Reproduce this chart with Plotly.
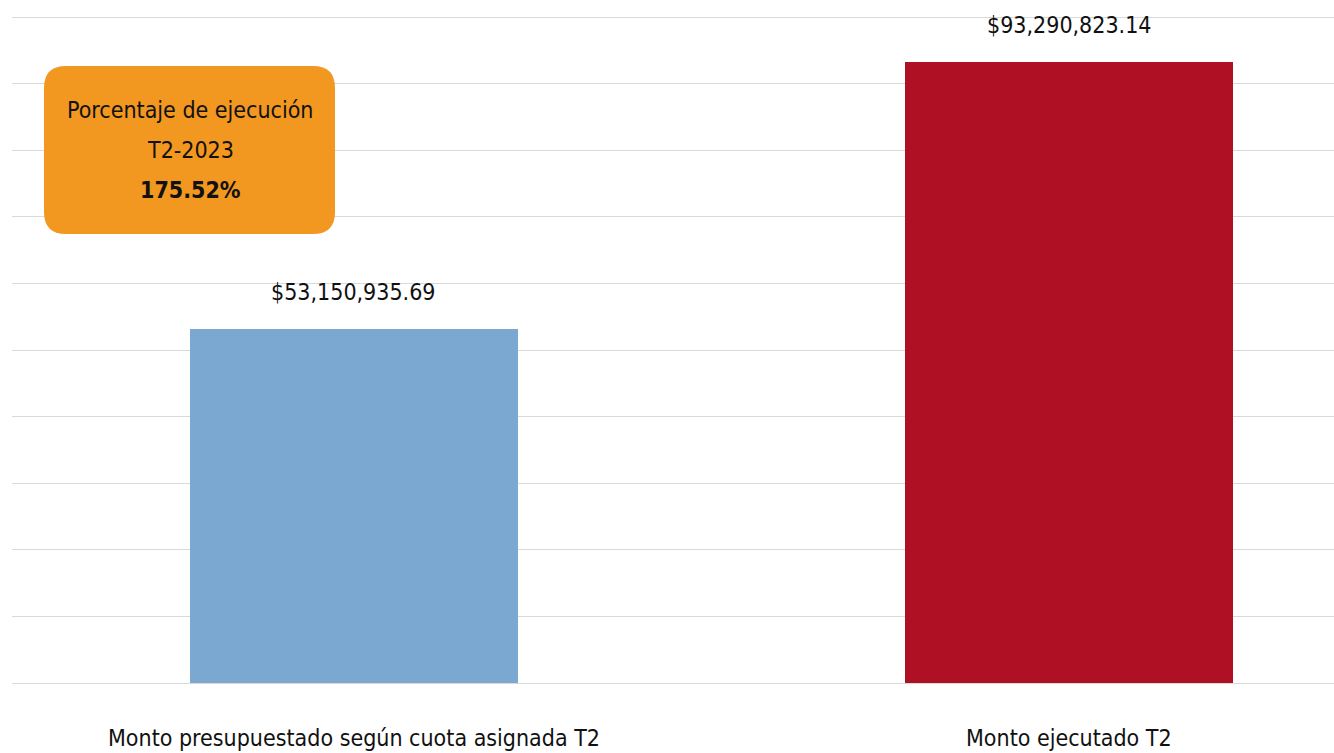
import plotly.graph_objects as go

categories = ["Monto presupuestado según cuota asignada T2", "Monto ejecutado T2"]
values = [53150935.69, 93290823.14]
value_labels = ["$53,150,935.69", "$93,290,823.14"]
bar_colors = ["#7AA8D0", "#B01023"]
box_lines = ["Porcentaje de ejecución", "T2-2023", "<b>175.52%</b>"]

FONT = "Liberation Sans Narrow, DejaVu Sans Condensed, Arial Narrow, sans-serif"
FS = 23
W, H = 1334, 753
ML, MR, MT, MB = 12, 0, 13, 70
pw, ph = W - ML - MR, H - MT - MB
YMAX = 1e8 * ph / 666.0

fig = go.Figure()
fig.add_trace(go.Bar(
    x=[0, 1], y=values, marker=dict(color=bar_colors, line=dict(width=0)),
    width=0.458, hoverinfo="skip", showlegend=False,
))

# value labels above bars
for i, (v, t) in enumerate(zip(values, value_labels)):
    fig.add_annotation(x=i, y=v, xref="x", yref="y", text=t, showarrow=False,
                       xanchor="center", yanchor="middle", yshift=37,
                       font=dict(family=FONT, size=FS, color="#111111"))

# category labels
for i, c in enumerate(categories):
    fig.add_annotation(x=i, y=0, xref="x", yref="paper", text=c, showarrow=False,
                       xanchor="center", yanchor="middle", yshift=-55,
                       font=dict(family=FONT, size=FS, color="#111111"))

# rounded orange box
def px2x(px):
    return (px - ML) / pw

def px2y(py):
    return (H - MB - py) / ph

x0, x1, y0, y1, r = 44, 335, 66, 234, 22
rx, ry = r / pw, r / ph
X0, X1, Yt, Yb = px2x(x0), px2x(x1), px2y(y0), px2y(y1)
path = (f"M {X0+rx},{Yt} L {X1-rx},{Yt} Q {X1},{Yt} {X1},{Yt-ry} "
        f"L {X1},{Yb+ry} Q {X1},{Yb} {X1-rx},{Yb} "
        f"L {X0+rx},{Yb} Q {X0},{Yb} {X0},{Yb+ry} "
        f"L {X0},{Yt-ry} Q {X0},{Yt} {X0+rx},{Yt} Z")
fig.add_shape(type="path", path=path, xref="paper", yref="paper",
              fillcolor="#F2971F", line=dict(width=0), layer="above")

for k, line in enumerate(box_lines):
    fig.add_annotation(x=px2x(190), y=px2y(110 + 40 * k), xref="paper", yref="paper",
                       text=line, showarrow=False, xanchor="center", yanchor="middle",
                       font=dict(family=FONT, size=FS, color="#111111"))

fig.update_layout(
    width=W, height=H,
    margin=dict(l=ML, r=MR, t=MT, b=MB),
    plot_bgcolor="white", paper_bgcolor="white",
    xaxis=dict(range=[-0.478, 1.370], showticklabels=False, showgrid=False,
               zeroline=False, showline=False, fixedrange=True),
    yaxis=dict(range=[0, YMAX], tick0=0, dtick=1e7, showticklabels=False, showgrid=True,
               gridcolor="#D9D9D9", gridwidth=1, zeroline=True,
               zerolinecolor="#D9D9D9", zerolinewidth=1, showline=False, fixedrange=True),
    bargap=0,
)

fig.write_html("out.html", config={"displayModeBar": False},
               post_script="document.body.style.margin='0';document.body.style.overflow='hidden';")
